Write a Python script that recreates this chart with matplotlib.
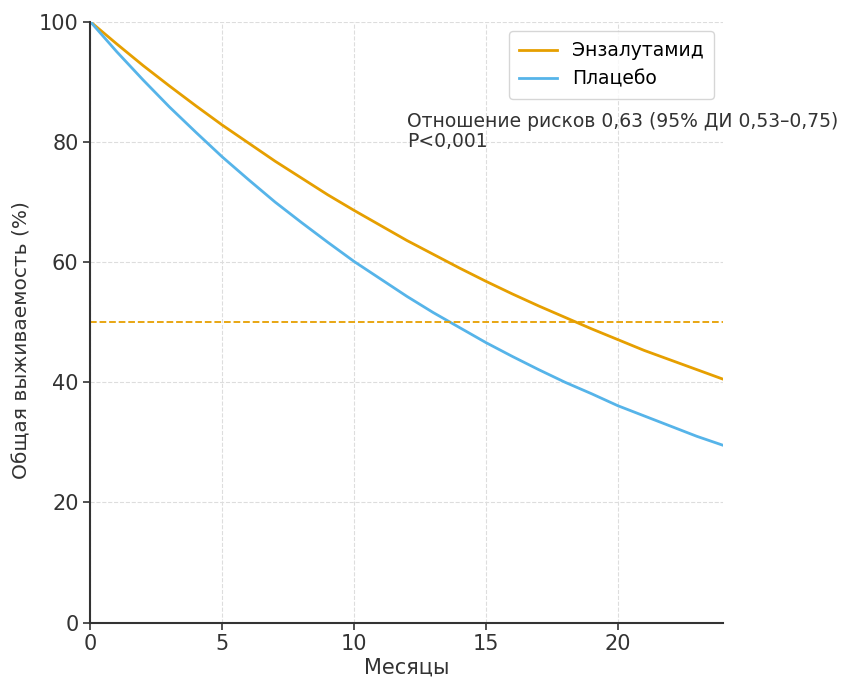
import matplotlib
matplotlib.use("Agg")
import matplotlib.pyplot as plt

# values at each month
months = list(range(0, 25))
enzalutamide = [100, 96.3, 92.7, 89.3, 86.0, 82.8, 79.8, 76.8, 74.0, 71.2,
                68.6, 66.1, 63.6, 61.3, 59.0, 56.8, 54.7, 52.7, 50.8, 48.9,
                47.1, 45.3, 43.7, 42.1, 40.5]
placebo = [100, 95.0, 90.3, 85.8, 81.6, 77.5, 73.7, 70.0, 66.6, 63.3,
           60.1, 57.2, 54.3, 51.6, 49.1, 46.6, 44.3, 42.1, 40.0, 38.1,
           36.1, 34.4, 32.7, 31.0, 29.5]
median_line = 50

ORANGE = "#E69F00"
BLUE = "#56B4E9"

fig, ax = plt.subplots(figsize=(8.45, 6.79), dpi=100)
fig.subplots_adjust(left=0.107, right=0.856, top=0.968, bottom=0.083)

ax.plot(months, enzalutamide, color=ORANGE, lw=2, label="Энзалутамид")
ax.plot(months, placebo, color=BLUE, lw=2, label="Плацебо")
ax.axhline(median_line, color=ORANGE, lw=1.3, ls="--")

ax.set_xlim(0, 24)
ax.set_ylim(0, 100)
ax.set_xticks([0, 5, 10, 15, 20])
ax.set_yticks([0, 20, 40, 60, 80, 100])
ax.grid(True, ls="--", color="#dddddd", lw=0.8)

for s in ["top", "right"]:
    ax.spines[s].set_visible(False)
for s in ["left", "bottom"]:
    ax.spines[s].set_color("#333333")
    ax.spines[s].set_linewidth(1.5)

ax.tick_params(labelsize=15, colors="#333333", length=5, width=1.2)
ax.set_xlabel("Месяцы", fontsize=15, color="#333333", labelpad=2)
ax.set_ylabel("Общая выживаемость (%)", fontsize=14.5, color="#333333")
ax.yaxis.set_label_coords(-0.093, 0.47)

ax.legend(loc="upper right", bbox_to_anchor=(1.0, 1.0), fontsize=13.5,
          frameon=True, borderpad=0.55, handlelength=2.0, labelspacing=0.5)

ax.text(12, 85, "Отношение рисков 0,63 (95% ДИ 0,53–0,75)\nP<0,001",
        fontsize=13.5, color="#333333", va="top", ha="left", linespacing=1.1)

fig.savefig("out.png", dpi=100)
